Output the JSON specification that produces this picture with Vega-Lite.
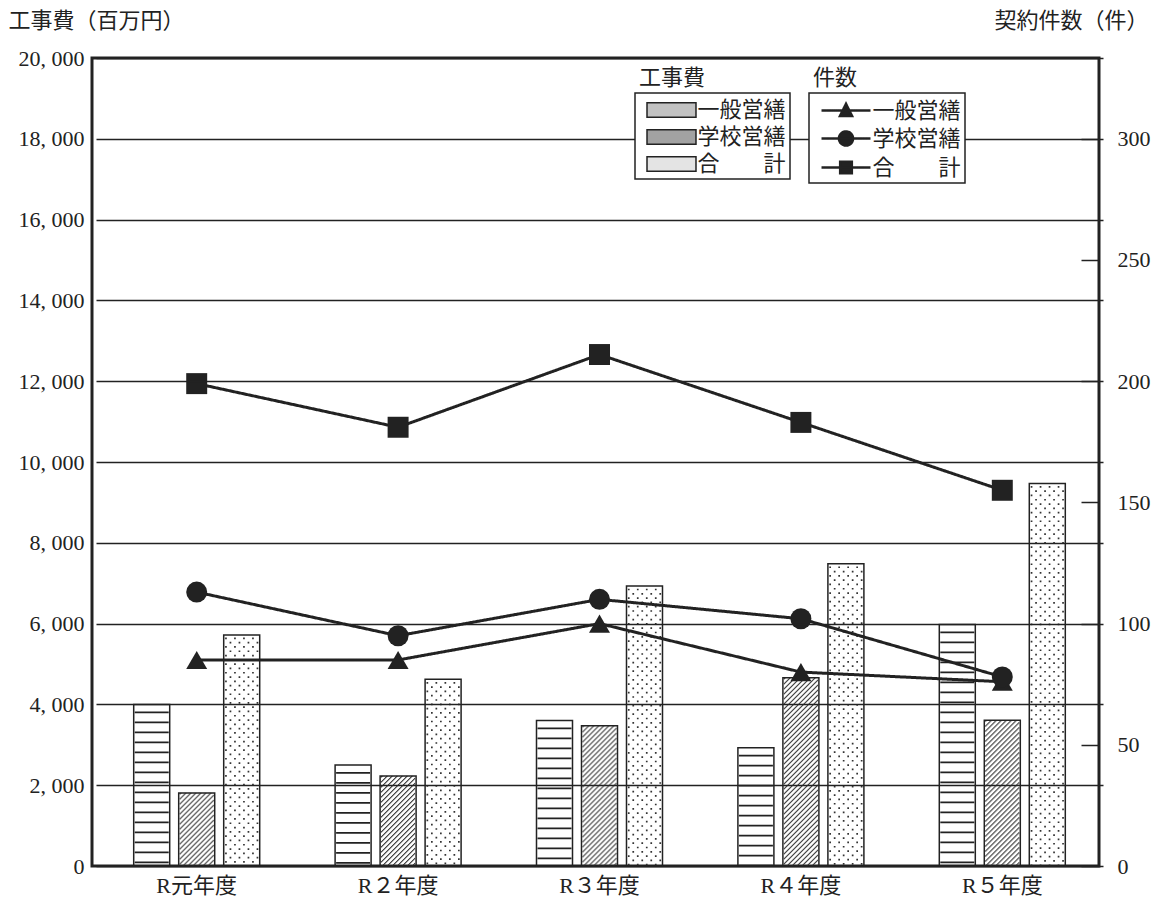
{
"$schema": "https://vega.github.io/schema/vega-lite/v6.json",
"width": 1007,
"height": 808,
"autosize": "none",
"padding": {"left": 92, "top": 58, "right": 56, "bottom": 40},
"config": {
  "font": "'Liberation Serif', 'Noto Sans CJK JP', serif",
  "view": {"stroke": "#222", "strokeWidth": 3},
  "axis": {"labelFontSize": 22, "titleFontSize": 22, "labelColor": "#222", "titleColor": "#222", "titleFontWeight": "normal"},
  "legend": {"padding": 4, "strokeColor": "#222", "strokeWidth": 1.5, "fillColor": "white", "titleFontSize": 22, "titleFontWeight": "normal", "titleColor": "#222", "labelFontSize": 22, "labelColor": "#222", "rowPadding": 3, "symbolOffset": 19.5, "labelOffset": 13, "titleBaseline": "line-bottom", "titleLineHeight": 36, "titlePadding": -22}
},
"datasets": {
  "bars": [
    {"year": "R元年度", "series": "一般営繕", "value": 4000},
    {"year": "R元年度", "series": "学校営繕", "value": 1810},
    {"year": "R元年度", "series": "合計", "value": 5720},
    {"year": "R２年度", "series": "一般営繕", "value": 2500},
    {"year": "R２年度", "series": "学校営繕", "value": 2230},
    {"year": "R２年度", "series": "合計", "value": 4620},
    {"year": "R３年度", "series": "一般営繕", "value": 3600},
    {"year": "R３年度", "series": "学校営繕", "value": 3470},
    {"year": "R３年度", "series": "合計", "value": 6930},
    {"year": "R４年度", "series": "一般営繕", "value": 2930},
    {"year": "R４年度", "series": "学校営繕", "value": 4660},
    {"year": "R４年度", "series": "合計", "value": 7480},
    {"year": "R５年度", "series": "一般営繕", "value": 5980},
    {"year": "R５年度", "series": "学校営繕", "value": 3610},
    {"year": "R５年度", "series": "合計", "value": 9470}
  ],
  "counts": [
    {"year": "R元年度", "series": "一般営繕", "count": 85},
    {"year": "R２年度", "series": "一般営繕", "count": 85},
    {"year": "R３年度", "series": "一般営繕", "count": 100},
    {"year": "R４年度", "series": "一般営繕", "count": 80},
    {"year": "R５年度", "series": "一般営繕", "count": 76},
    {"year": "R元年度", "series": "学校営繕", "count": 113},
    {"year": "R２年度", "series": "学校営繕", "count": 95},
    {"year": "R３年度", "series": "学校営繕", "count": 110},
    {"year": "R４年度", "series": "学校営繕", "count": 102},
    {"year": "R５年度", "series": "学校営繕", "count": 78},
    {"year": "R元年度", "series": "合　　計", "count": 199},
    {"year": "R２年度", "series": "合　　計", "count": 181},
    {"year": "R３年度", "series": "合　　計", "count": 211},
    {"year": "R４年度", "series": "合　　計", "count": 183},
    {"year": "R５年度", "series": "合　　計", "count": 155}
  ]
},
"encoding": {
  "x": {"field": "year", "type": "nominal",
        "scale": {"domain": ["R元年度", "R２年度", "R３年度", "R４年度", "R５年度"], "range": [4, 1011], "paddingInner": 0, "paddingOuter": 0},
        "axis": {"orient": "bottom", "labelAngle": 0, "ticks": false, "domain": false, "labelPadding": 9, "title": null, "zindex": 1}}
},
"layer": [
  {
    "data": {"name": "bars"},
    "encoding": {
      "y": {"field": "value", "type": "quantitative", "stack": null,
            "scale": {"domain": [0, 20000], "nice": false},
            "axis": {"orient": "left", "values": [0, 2000, 4000, 6000, 8000, 10000, 12000, 14000, 16000, 18000, 20000],
                     "grid": true, "gridColor": "#222", "gridWidth": 1.5, "gridOpacity": 1, "ticks": false, "domain": false,
                     "labelPadding": 8, "labelExpr": "replace(format(datum.value, ','), ',', ', ')",
                     "title": "工事費（百万円）", "titleAngle": 0, "titleAlign": "left", "titleBaseline": "middle",
                     "titleX": -84, "titleY": -38, "zindex": 1}}
    },
    "layer": [
      {"transform": [{"filter": "datum.series === '一般営繕'"}],
       "mark": {"type": "rule", "color": "#222", "strokeWidth": 34, "strokeCap": "butt", "strokeDash": [1.8, 8.2], "strokeDashOffset": 3, "xOffset": -45},
       "encoding": {"y2": {"datum": 0}}},
      {"transform": [{"filter": "datum.series === '学校営繕'"}],
       "encoding": {"y2": {"datum": 0}},
       "layer": [
        {"mark": {"type": "rule", "color": "#333", "strokeWidth": 1, "strokeCap": "butt", "strokeDash": [1.6, 3.4], "xOffset": -16.5, "strokeDashOffset": 0}, "encoding": {}},
        {"mark": {"type": "rule", "color": "#333", "strokeWidth": 1, "strokeCap": "butt", "strokeDash": [1.6, 3.4], "xOffset": -15.5, "strokeDashOffset": 1}, "encoding": {}},
        {"mark": {"type": "rule", "color": "#333", "strokeWidth": 1, "strokeCap": "butt", "strokeDash": [1.6, 3.4], "xOffset": -14.5, "strokeDashOffset": 2}, "encoding": {}},
        {"mark": {"type": "rule", "color": "#333", "strokeWidth": 1, "strokeCap": "butt", "strokeDash": [1.6, 3.4], "xOffset": -13.5, "strokeDashOffset": 3}, "encoding": {}},
        {"mark": {"type": "rule", "color": "#333", "strokeWidth": 1, "strokeCap": "butt", "strokeDash": [1.6, 3.4], "xOffset": -12.5, "strokeDashOffset": 4}, "encoding": {}},
        {"mark": {"type": "rule", "color": "#333", "strokeWidth": 1, "strokeCap": "butt", "strokeDash": [1.6, 3.4], "xOffset": -11.5, "strokeDashOffset": 5}, "encoding": {}},
        {"mark": {"type": "rule", "color": "#333", "strokeWidth": 1, "strokeCap": "butt", "strokeDash": [1.6, 3.4], "xOffset": -10.5, "strokeDashOffset": 6}, "encoding": {}},
        {"mark": {"type": "rule", "color": "#333", "strokeWidth": 1, "strokeCap": "butt", "strokeDash": [1.6, 3.4], "xOffset": -9.5, "strokeDashOffset": 7}, "encoding": {}},
        {"mark": {"type": "rule", "color": "#333", "strokeWidth": 1, "strokeCap": "butt", "strokeDash": [1.6, 3.4], "xOffset": -8.5, "strokeDashOffset": 8}, "encoding": {}},
        {"mark": {"type": "rule", "color": "#333", "strokeWidth": 1, "strokeCap": "butt", "strokeDash": [1.6, 3.4], "xOffset": -7.5, "strokeDashOffset": 9}, "encoding": {}},
        {"mark": {"type": "rule", "color": "#333", "strokeWidth": 1, "strokeCap": "butt", "strokeDash": [1.6, 3.4], "xOffset": -6.5, "strokeDashOffset": 10}, "encoding": {}},
        {"mark": {"type": "rule", "color": "#333", "strokeWidth": 1, "strokeCap": "butt", "strokeDash": [1.6, 3.4], "xOffset": -5.5, "strokeDashOffset": 11}, "encoding": {}},
        {"mark": {"type": "rule", "color": "#333", "strokeWidth": 1, "strokeCap": "butt", "strokeDash": [1.6, 3.4], "xOffset": -4.5, "strokeDashOffset": 12}, "encoding": {}},
        {"mark": {"type": "rule", "color": "#333", "strokeWidth": 1, "strokeCap": "butt", "strokeDash": [1.6, 3.4], "xOffset": -3.5, "strokeDashOffset": 13}, "encoding": {}},
        {"mark": {"type": "rule", "color": "#333", "strokeWidth": 1, "strokeCap": "butt", "strokeDash": [1.6, 3.4], "xOffset": -2.5, "strokeDashOffset": 14}, "encoding": {}},
        {"mark": {"type": "rule", "color": "#333", "strokeWidth": 1, "strokeCap": "butt", "strokeDash": [1.6, 3.4], "xOffset": -1.5, "strokeDashOffset": 15}, "encoding": {}},
        {"mark": {"type": "rule", "color": "#333", "strokeWidth": 1, "strokeCap": "butt", "strokeDash": [1.6, 3.4], "xOffset": -0.5, "strokeDashOffset": 16}, "encoding": {}},
        {"mark": {"type": "rule", "color": "#333", "strokeWidth": 1, "strokeCap": "butt", "strokeDash": [1.6, 3.4], "xOffset": 0.5, "strokeDashOffset": 17}, "encoding": {}},
        {"mark": {"type": "rule", "color": "#333", "strokeWidth": 1, "strokeCap": "butt", "strokeDash": [1.6, 3.4], "xOffset": 1.5, "strokeDashOffset": 18}, "encoding": {}},
        {"mark": {"type": "rule", "color": "#333", "strokeWidth": 1, "strokeCap": "butt", "strokeDash": [1.6, 3.4], "xOffset": 2.5, "strokeDashOffset": 19}, "encoding": {}},
        {"mark": {"type": "rule", "color": "#333", "strokeWidth": 1, "strokeCap": "butt", "strokeDash": [1.6, 3.4], "xOffset": 3.5, "strokeDashOffset": 20}, "encoding": {}},
        {"mark": {"type": "rule", "color": "#333", "strokeWidth": 1, "strokeCap": "butt", "strokeDash": [1.6, 3.4], "xOffset": 4.5, "strokeDashOffset": 21}, "encoding": {}},
        {"mark": {"type": "rule", "color": "#333", "strokeWidth": 1, "strokeCap": "butt", "strokeDash": [1.6, 3.4], "xOffset": 5.5, "strokeDashOffset": 22}, "encoding": {}},
        {"mark": {"type": "rule", "color": "#333", "strokeWidth": 1, "strokeCap": "butt", "strokeDash": [1.6, 3.4], "xOffset": 6.5, "strokeDashOffset": 23}, "encoding": {}},
        {"mark": {"type": "rule", "color": "#333", "strokeWidth": 1, "strokeCap": "butt", "strokeDash": [1.6, 3.4], "xOffset": 7.5, "strokeDashOffset": 24}, "encoding": {}},
        {"mark": {"type": "rule", "color": "#333", "strokeWidth": 1, "strokeCap": "butt", "strokeDash": [1.6, 3.4], "xOffset": 8.5, "strokeDashOffset": 25}, "encoding": {}},
        {"mark": {"type": "rule", "color": "#333", "strokeWidth": 1, "strokeCap": "butt", "strokeDash": [1.6, 3.4], "xOffset": 9.5, "strokeDashOffset": 26}, "encoding": {}},
        {"mark": {"type": "rule", "color": "#333", "strokeWidth": 1, "strokeCap": "butt", "strokeDash": [1.6, 3.4], "xOffset": 10.5, "strokeDashOffset": 27}, "encoding": {}},
        {"mark": {"type": "rule", "color": "#333", "strokeWidth": 1, "strokeCap": "butt", "strokeDash": [1.6, 3.4], "xOffset": 11.5, "strokeDashOffset": 28}, "encoding": {}},
        {"mark": {"type": "rule", "color": "#333", "strokeWidth": 1, "strokeCap": "butt", "strokeDash": [1.6, 3.4], "xOffset": 12.5, "strokeDashOffset": 29}, "encoding": {}},
        {"mark": {"type": "rule", "color": "#333", "strokeWidth": 1, "strokeCap": "butt", "strokeDash": [1.6, 3.4], "xOffset": 13.5, "strokeDashOffset": 30}, "encoding": {}},
        {"mark": {"type": "rule", "color": "#333", "strokeWidth": 1, "strokeCap": "butt", "strokeDash": [1.6, 3.4], "xOffset": 14.5, "strokeDashOffset": 31}, "encoding": {}},
        {"mark": {"type": "rule", "color": "#333", "strokeWidth": 1, "strokeCap": "butt", "strokeDash": [1.6, 3.4], "xOffset": 15.5, "strokeDashOffset": 32}, "encoding": {}},
        {"mark": {"type": "rule", "color": "#333", "strokeWidth": 1, "strokeCap": "butt", "strokeDash": [1.6, 3.4], "xOffset": 16.5, "strokeDashOffset": 33}, "encoding": {}}
       ]},
      {"transform": [{"filter": "datum.series === '合計'"}],
       "encoding": {"y2": {"datum": 0}},
       "layer": [
        {"mark": {"type": "rule", "color": "#333", "strokeWidth": 1.7, "strokeCap": "butt", "strokeDash": [1.7, 6.9], "xOffset": 29.25, "strokeDashOffset": 6}, "encoding": {}},
        {"mark": {"type": "rule", "color": "#333", "strokeWidth": 1.7, "strokeCap": "butt", "strokeDash": [1.7, 6.9], "xOffset": 33.75, "strokeDashOffset": 1.7}, "encoding": {}},
        {"mark": {"type": "rule", "color": "#333", "strokeWidth": 1.7, "strokeCap": "butt", "strokeDash": [1.7, 6.9], "xOffset": 38.25, "strokeDashOffset": 6}, "encoding": {}},
        {"mark": {"type": "rule", "color": "#333", "strokeWidth": 1.7, "strokeCap": "butt", "strokeDash": [1.7, 6.9], "xOffset": 42.75, "strokeDashOffset": 1.7}, "encoding": {}},
        {"mark": {"type": "rule", "color": "#333", "strokeWidth": 1.7, "strokeCap": "butt", "strokeDash": [1.7, 6.9], "xOffset": 47.25, "strokeDashOffset": 6}, "encoding": {}},
        {"mark": {"type": "rule", "color": "#333", "strokeWidth": 1.7, "strokeCap": "butt", "strokeDash": [1.7, 6.9], "xOffset": 51.75, "strokeDashOffset": 1.7}, "encoding": {}},
        {"mark": {"type": "rule", "color": "#333", "strokeWidth": 1.7, "strokeCap": "butt", "strokeDash": [1.7, 6.9], "xOffset": 56.25, "strokeDashOffset": 6}, "encoding": {}},
        {"mark": {"type": "rule", "color": "#333", "strokeWidth": 1.7, "strokeCap": "butt", "strokeDash": [1.7, 6.9], "xOffset": 60.75, "strokeDashOffset": 1.7}, "encoding": {}}
       ]},
      {"mark": {"type": "bar", "fillOpacity": 0, "stroke": "#222", "strokeWidth": 1.5},
       "encoding": {
         "xOffset": {"field": "series", "type": "nominal", "scale": {"domain": ["一般営繕", "学校営繕", "合計"], "paddingInner": 0.2, "paddingOuter": 0.8378}},
         "fill": {"field": "series", "type": "nominal",
                  "scale": {"domain": ["一般営繕", "学校営繕", "合計"], "range": ["#c2c2c2", "#a2a2a2", "#e4e4e4"]},
                  "legend": {"title": "工事費", "orient": "none", "legendX": 543, "legendY": 35, "direction": "vertical", "zindex": 2,
                             "symbolType": "M-2,-0.6H2V0.6H-2Z", "symbolSize": 600, "symbolStrokeColor": "#222", "symbolStrokeWidth": 1.5, "symbolOpacity": 1,
                             "labelExpr": "datum.label === '合計' ? '合　　計' : datum.label"}}
       }}
    ]
  },
  {
    "data": {"name": "counts"},
    "encoding": {
      "y": {"field": "count", "type": "quantitative",
            "scale": {"domain": [0, 333.333], "nice": false},
            "axis": {"orient": "right", "values": [0, 50, 100, 150, 200, 250, 300], "grid": false, "ticks": true, "tickSize": -18,
                     "tickColor": "#222", "tickWidth": 1.5, "domain": false, "labelPadding": 36,
                     "title": "契約件数（件）", "titleAngle": 0, "titleAlign": "right", "titleBaseline": "middle",
                     "titleX": 49, "titleY": -38, "zindex": 1}}
    },
    "layer": [
      {"mark": {"type": "line", "color": "#222", "strokeWidth": 3},
       "encoding": {"strokeDash": {"field": "series", "type": "nominal",
                                   "scale": {"domain": ["一般営繕", "学校営繕", "合　　計"], "range": [[1, 0], [1, 0], [1, 0]]},
                                   "legend": {"title": "件数", "orient": "none", "legendX": 717, "legendY": 35, "direction": "vertical", "zindex": 2,
                                              "symbolType": "M-2,0H2", "symbolSize": 600, "symbolStrokeColor": "#222", "symbolStrokeWidth": 2.4,
                                              "encode": {"symbols": {"update": {
                                                           "shape": {"signal": "datum.value === '一般営繕' ? 'M-2,0H2M0,-0.55L0.5,0.45L-0.5,0.45Z' : datum.value === '学校営繕' ? 'M-2,0H2M0.58,0A0.58,0.58,0,1,1,-0.58,0A0.58,0.58,0,1,1,0.58,0Z' : 'M-2,0H2M-0.48,-0.48H0.48V0.48H-0.48Z'"},
                                                           "fill": {"value": "#222"}, "fillOpacity": {"value": 1}, "stroke": {"value": "#222"}, "strokeWidth": {"value": 2.4},
                                                           "opacity": {"value": 1}, "size": {"value": 600}}}}}}}},
      {"mark": {"type": "point", "filled": true, "color": "#222", "opacity": 1, "size": 440},
       "encoding": {"shape": {"field": "series", "type": "nominal",
                              "scale": {"domain": ["一般営繕", "学校営繕", "合　　計"], "range": ["triangle-up", "circle", "square"]},
                              "legend": null}}}
    ]
  }
],
"resolve": {"scale": {"y": "independent", "strokeDash": "independent"}, "legend": {"strokeDash": "independent"}}
}
